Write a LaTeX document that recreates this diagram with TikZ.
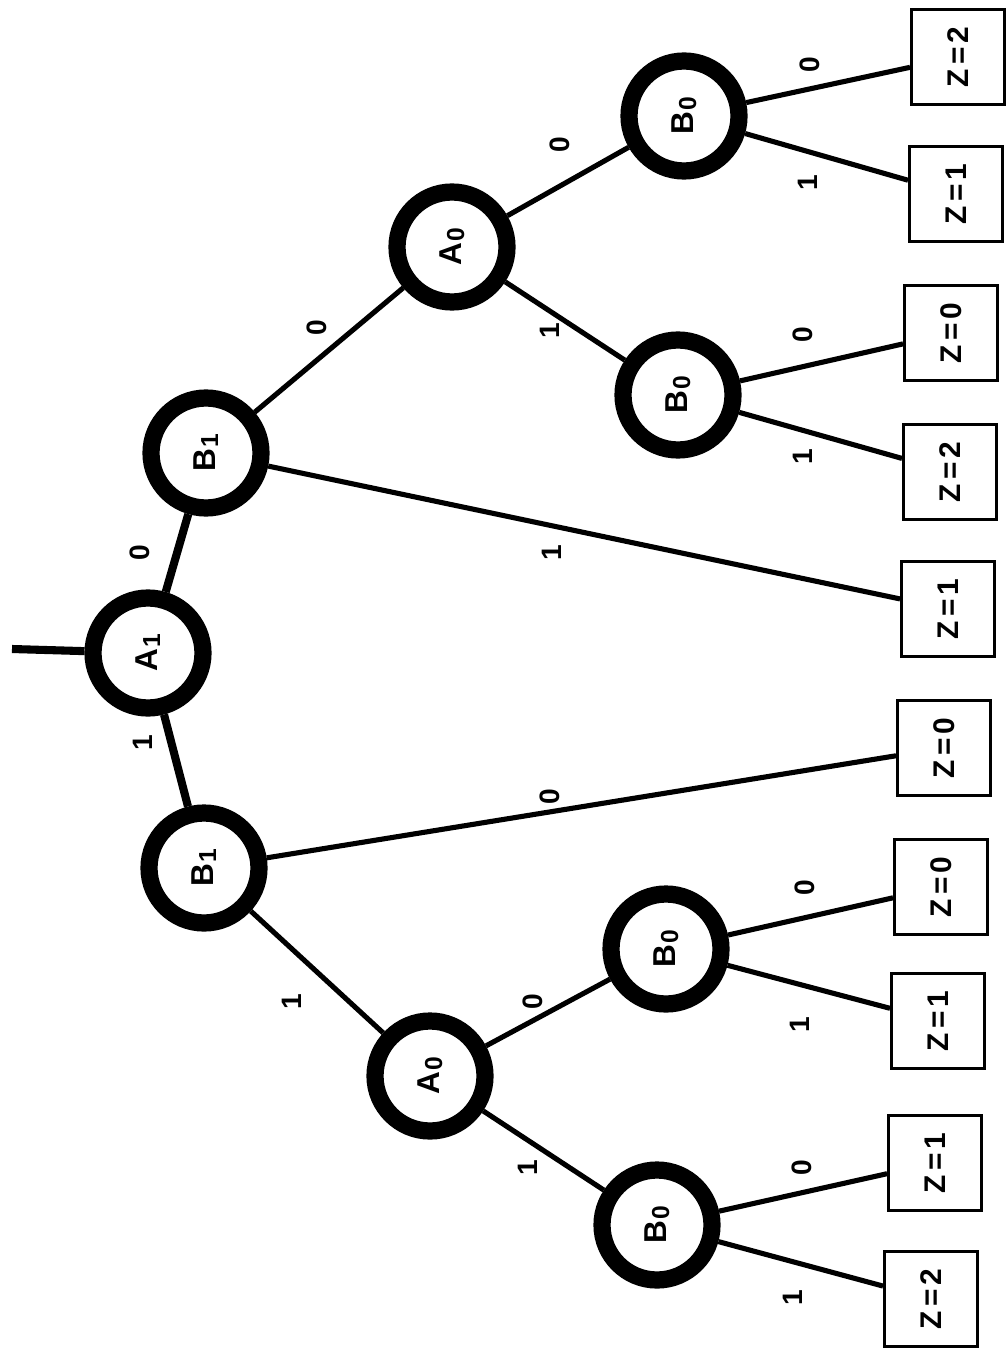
\documentclass[tikz,border=0pt]{standalone}
\usepackage{fontspec}
\setmainfont{Liberation Sans}
\begin{document}
\begin{tikzpicture}[x=0.02cm,y=-0.02cm,
  state/.style={circle,draw=black,line width=9.8pt,minimum size=2.2cm,inner sep=0pt,
    rotate=90,font=\fontsize{18}{18}\selectfont\bfseries},
  leaf/.style={rectangle,draw=black,line width=1.7pt,minimum width=1.9cm,minimum height=1.86cm,
    inner sep=0pt,rotate=90,font=\fontsize{17}{17}\selectfont\bfseries},
  branch/.style={line width=2.9pt},
  trunk/.style={line width=4.6pt},
  bit/.style={rotate=90,inner sep=0pt,font=\fontsize{16}{16}\selectfont\bfseries}]
\useasboundingbox (0,0) rectangle (1005,1351);
\newcommand{\lab}[2]{#1\kern0.8pt\raisebox{-1.5pt}{\fontsize{14}{14}\selectfont #2}}
\newcommand{\zval}[1]{Z\kern2.5pt=\kern2.5pt#1}

% decision nodes
\node[state] (a1)  at (148,653)  {\lab{A}{1}};
\node[state] (b1u) at (206,453)  {\lab{B}{1}};
\node[state] (b1l) at (204,868)  {\lab{B}{1}};
\node[state] (a0u) at (452,247)  {\lab{A}{0}};
\node[state] (a0l) at (430,1076) {\lab{A}{0}};
\node[state] (b0a) at (684,116)  {\lab{B}{0}};
\node[state] (b0b) at (678,395)  {\lab{B}{0}};
\node[state] (b0c) at (666,949)  {\lab{B}{0}};
\node[state] (b0d) at (657,1225) {\lab{B}{0}};

% outcome boxes
\node[leaf] (z1)  at (958,57)   {\zval{2}};
\node[leaf] (z2)  at (956,194)  {\zval{1}};
\node[leaf] (z3)  at (951,333)  {\zval{0}};
\node[leaf] (z4)  at (950,472)  {\zval{2}};
\node[leaf] (z5)  at (948,609)  {\zval{1}};
\node[leaf] (z6)  at (944,748)  {\zval{0}};
\node[leaf] (z7)  at (941,887)  {\zval{0}};
\node[leaf] (z8)  at (938,1021) {\zval{1}};
\node[leaf] (z9)  at (935,1163) {\zval{1}};
\node[leaf] (z10) at (931,1299) {\zval{2}};

% incoming line
\coordinate (start) at (12,649);
\draw[trunk] (start) -- (a1);

% branches
\draw[trunk]  (a1) -- (b1u);
\draw[trunk]  (a1) -- (b1l);
\draw[branch] (b1u) -- (a0u);
\draw[branch] (b1u) -- (z5);
\draw[branch] (a0u) -- (b0a);
\draw[branch] (a0u) -- (b0b);
\draw[branch] (b0a) -- (z1);
\draw[branch] (b0a) -- (z2);
\draw[branch] (b0b) -- (z3);
\draw[branch] (b0b) -- (z4);
\draw[branch] (b1l) -- (z6);
\draw[branch] (b1l) -- (a0l);
\draw[branch] (a0l) -- (b0c);
\draw[branch] (a0l) -- (b0d);
\draw[branch] (b0c) -- (z7);
\draw[branch] (b0c) -- (z8);
\draw[branch] (b0d) -- (z9);
\draw[branch] (b0d) -- (z10);

% branch values
\node[bit] (l1)  at (140,553)  {0};
\node[bit] (l2)  at (143,743)  {1};
\node[bit] (l3)  at (317,328)  {0};
\node[bit] (l4)  at (552,553)  {1};
\node[bit] (l5)  at (560,145)  {0};
\node[bit] (l6)  at (550,331)  {1};
\node[bit] (l7)  at (810,65)   {0};
\node[bit] (l8)  at (808,183)  {1};
\node[bit] (l9)  at (803,335)  {0};
\node[bit] (l10) at (803,457)  {1};
\node[bit] (l11) at (550,797)  {0};
\node[bit] (l12) at (292,1002) {1};
\node[bit] (l13) at (533,1002) {0};
\node[bit] (l14) at (528,1168) {1};
\node[bit] (l15) at (805,888)  {0};
\node[bit] (l16) at (800,1025) {1};
\node[bit] (l17) at (802,1168) {0};
\node[bit] (l18) at (793,1298) {1};
\end{tikzpicture}
\end{document}
